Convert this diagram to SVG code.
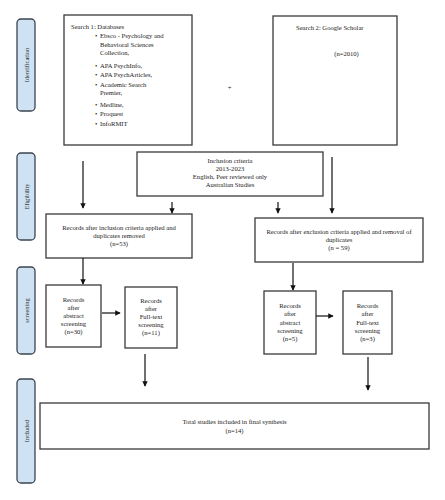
<svg xmlns="http://www.w3.org/2000/svg" width="445" height="500" viewBox="0 0 445 500">
<defs>
<style>
.box{fill:#fff;stroke:#3a3a3a;stroke-width:1.3}
.side{fill:#cfe2f3;stroke:#3a4450;stroke-width:1.3}
.t{font-family:"Liberation Serif","Times New Roman",serif;font-size:6.6px;fill:#222}
.c{text-anchor:middle}
.sl{font-family:"Liberation Serif","Times New Roman",serif;font-size:6.4px;fill:#333;text-anchor:middle}
.ln{stroke:#111;stroke-width:1.2;fill:none;marker-end:url(#ah)}
</style>
<marker id="ah" viewBox="0 0 8 8" refX="7" refY="4" markerWidth="4.5" markerHeight="4.5" orient="auto" markerUnits="strokeWidth">
<path d="M0,0 L8,4 L0,8 z" fill="#111"/>
</marker>
</defs>
<rect width="445" height="500" fill="#fff"/>

<g id="side-identification"><rect class="side" x="17" y="19" width="18" height="92" rx="4"/><text class="sl" transform="translate(28.5,65) rotate(-90)">Identification</text></g>
<g id="side-eligibility"><rect class="side" x="17" y="153" width="18" height="87" rx="4"/><text class="sl" transform="translate(28.5,196.5) rotate(-90)">Eligibility</text></g>
<g id="side-screening"><rect class="side" x="17" y="267" width="18" height="87" rx="4"/><text class="sl" transform="translate(28.5,310.5) rotate(-90)">screening</text></g>
<g id="side-included"><rect class="side" x="17" y="379" width="18" height="104" rx="4"/><text class="sl" transform="translate(28.5,431) rotate(-90)">Included</text></g>

<g id="search1">
<rect class="box" x="64" y="15" width="128" height="130"/>
<text class="t" x="71" y="29">Search 1: Databases</text>
<text class="t" x="95" y="38.2">•</text><text class="t" x="100" y="38.2">Ebsco - Psychology and</text>
<text class="t" x="100" y="46.5">Behavioral Sciences</text>
<text class="t" x="100" y="55">Collection,</text>
<text class="t" x="95" y="68.2">•</text><text class="t" x="100" y="68.2">APA PsychInfo,</text>
<text class="t" x="95" y="77">•</text><text class="t" x="100" y="77">APA PsychArticles,</text>
<text class="t" x="95" y="86.5">•</text><text class="t" x="100" y="86.5">Academic Search</text>
<text class="t" x="100" y="95">Premier,</text>
<text class="t" x="95" y="106.5">•</text><text class="t" x="100" y="106.5">Medline,</text>
<text class="t" x="95" y="116">•</text><text class="t" x="100" y="116">Proquest</text>
<text class="t" x="95" y="125.5">•</text><text class="t" x="100" y="125.5">InfoRMIT</text>
</g>

<g id="plus"><text class="t c" x="229.5" y="89.5">+</text></g>

<g id="search2">
<rect class="box" x="273" y="16" width="124" height="129"/>
<text class="t" x="296" y="29.5">Search 2: Google Scholar</text>
<text class="t c" x="346.5" y="56">(n=2010)</text>
</g>

<g id="inclusion">
<rect class="box" x="137" y="152" width="186" height="44"/>
<text class="t c" x="230" y="162.5">Inclusion criteria</text>
<text class="t c" x="230" y="170.5">2013-2023</text>
<text class="t c" x="230" y="178.5">English, Peer reviewed only</text>
<text class="t c" x="230" y="186.5">Australian Studies</text>
</g>

<g id="records-left">
<rect class="box" x="46" y="214" width="146" height="44"/>
<text class="t c" x="119" y="229.5">Records after inclusion criteria applied and</text>
<text class="t c" x="119" y="237.5">duplicates removed</text>
<text class="t c" x="119" y="245.5">(n=53)</text>
</g>

<g id="records-right">
<rect class="box" x="255" y="218" width="168" height="44"/>
<text class="t c" x="339" y="234">Records after exclusion criteria applied and removal of</text>
<text class="t c" x="339" y="242">duplicates</text>
<text class="t c" x="339" y="250">(n = 59)</text>
</g>

<g id="abstract-left">
<rect class="box" x="46" y="285" width="55" height="62"/>
<text class="t c" x="73.5" y="301.5">Records</text>
<text class="t c" x="73.5" y="309.5">after</text>
<text class="t c" x="73.5" y="317.7">abstract</text>
<text class="t c" x="73.5" y="326">screening</text>
<text class="t c" x="73.5" y="334.2">(n=30)</text>
</g>

<g id="fulltext-left">
<rect class="box" x="125" y="287" width="52" height="61"/>
<text class="t c" x="151" y="302.5">Records</text>
<text class="t c" x="151" y="310.5">after</text>
<text class="t c" x="151" y="318.8">Full-text</text>
<text class="t c" x="151" y="327">screening</text>
<text class="t c" x="151" y="335">(n=11)</text>
</g>

<g id="abstract-right">
<rect class="box" x="264" y="291" width="52" height="63"/>
<text class="t c" x="290" y="308">Records</text>
<text class="t c" x="290" y="316.2">after</text>
<text class="t c" x="290" y="324.5">abstract</text>
<text class="t c" x="290" y="332.7">screening</text>
<text class="t c" x="290" y="341">(n=5)</text>
</g>

<g id="fulltext-right">
<rect class="box" x="343" y="291" width="49" height="63"/>
<text class="t c" x="367.5" y="308">Records</text>
<text class="t c" x="367.5" y="316.2">after</text>
<text class="t c" x="367.5" y="324.5">Full-text</text>
<text class="t c" x="367.5" y="332.7">screening</text>
<text class="t c" x="367.5" y="341">(n=3)</text>
</g>

<g id="total">
<rect class="box" x="40" y="403" width="389" height="46"/>
<text class="t c" x="234.5" y="424">Total studies included in final synthesis</text>
<text class="t c" x="234.5" y="432.5">(n=14)</text>
</g>

<g id="connectors">
<line class="ln" x1="83" y1="161" x2="83" y2="208"/>
<line class="ln" x1="172" y1="202" x2="172" y2="213"/>
<line class="ln" x1="278" y1="202" x2="278" y2="213"/>
<line class="ln" x1="332" y1="157" x2="332" y2="213"/>
<line class="ln" x1="83" y1="258" x2="83" y2="284"/>
<line class="ln" x1="293" y1="263" x2="293" y2="290"/>
<line class="ln" x1="102" y1="313" x2="120" y2="313"/>
<line class="ln" x1="316" y1="316" x2="333" y2="316"/>
<line class="ln" x1="145" y1="354" x2="145" y2="386"/>
<line class="ln" x1="368" y1="357" x2="368" y2="390"/>
</g>
</svg>
